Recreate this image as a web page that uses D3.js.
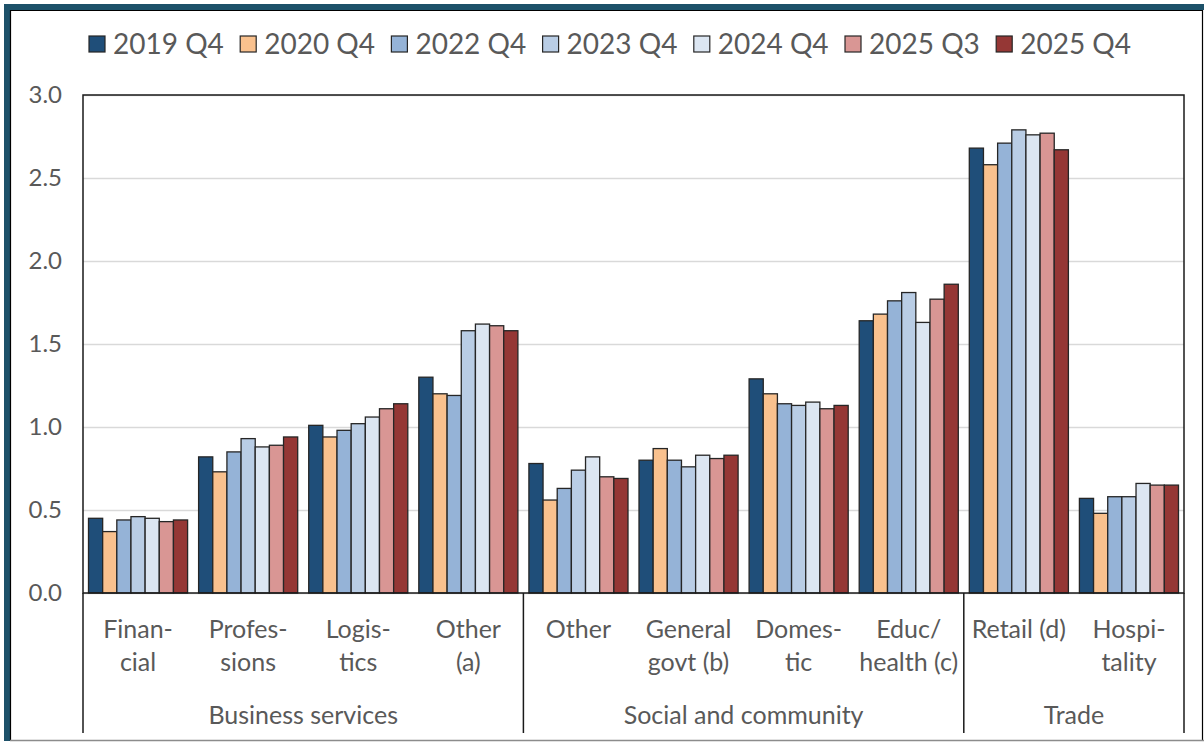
<!DOCTYPE html>
<html>
<head>
<meta charset="utf-8">
<script src="https://cdn.jsdelivr.net/npm/d3@7"></script>
<style>
  body { margin: 0; background: #fff; }
  svg text { font-family: Lato, "Open Sans", sans-serif; fill: #595959; }
</style>
</head>
<body>
<div id="container"></div>
<script>
/* DATA */
const series = ["2019 Q4", "2020 Q4", "2022 Q4", "2023 Q4", "2024 Q4", "2025 Q3", "2025 Q4"];
const colors = ["#1f4e79", "#f9c18e", "#95b3d7", "#b9cde5", "#dce6f2", "#d99694", "#953735"];

const categories = ["Financial", "Professions", "Logistics", "Other (a)", "Other",
  "General govt (b)", "Domestic", "Educ/health (c)", "Retail (d)", "Hospitality"];
// how each category label is broken onto lines
const categoryLines = [["Finan-", "cial"], ["Profes-", "sions"], ["Logis-", "tics"], ["Other", "(a)"], ["Other"],
  ["General", "govt (b)"], ["Domes-", "tic"], ["Educ/", "health (c)"], ["Retail (d)"], ["Hospi-", "tality"]];

const groups = ["Business services", "Social and community", "Trade"];
const groupSizes = [4, 4, 2];

// one array per category, values in series order
const financial   = [0.45, 0.37, 0.44, 0.46, 0.45, 0.43, 0.44];
const professions = [0.82, 0.73, 0.85, 0.93, 0.88, 0.89, 0.94];
const logistics   = [1.01, 0.94, 0.98, 1.02, 1.06, 1.11, 1.14];
const otherA      = [1.30, 1.20, 1.19, 1.58, 1.62, 1.61, 1.58];
const otherSocial = [0.78, 0.56, 0.63, 0.74, 0.82, 0.70, 0.69];
const generalGovt = [0.80, 0.87, 0.80, 0.76, 0.83, 0.81, 0.83];
const domestic    = [1.29, 1.20, 1.14, 1.13, 1.15, 1.11, 1.13];
const educHealth  = [1.64, 1.68, 1.76, 1.81, 1.63, 1.77, 1.86];
const retail      = [2.68, 2.58, 2.71, 2.79, 2.76, 2.77, 2.67];
const hospitality = [0.57, 0.48, 0.58, 0.58, 0.66, 0.65, 0.65];
const values = [financial, professions, logistics, otherA, otherSocial,
  generalGovt, domestic, educHealth, retail, hospitality];

const yTicks = [0, 0.5, 1.0, 1.5, 2.0, 2.5, 3.0];

/* LAYOUT */
const width = 1204, height = 742;
const margin = { top: 95, left: 83, right: 20, bottom: 149 };
const plotW = width - margin.left - margin.right;
const plotH = height - margin.top - margin.bottom;

const svg = d3.select("#container").append("svg")
  .attr("width", width)
  .attr("height", height);

// chart frame
svg.append("rect").attr("x", 4).attr("y", 4).attr("width", 1200).attr("height", 6).attr("fill", "#1d5169");
svg.append("rect").attr("x", 4).attr("y", 4).attr("width", 6).attr("height", 737).attr("fill", "#1d5169");
svg.append("path")
  .attr("d", "M10.5,741 V10.5 H1202.5 V741")
  .attr("fill", "none").attr("stroke", "#000").attr("stroke-width", 1.2);
svg.append("line").attr("x1", 10).attr("x2", 1204).attr("y1", 740.5).attr("y2", 740.5)
  .attr("stroke", "#8c8c8c").attr("stroke-width", 1.5);

const g = svg.append("g").attr("transform", `translate(${margin.left},${margin.top})`);

/* SCALES */
const x0 = d3.scaleBand().domain(categories).range([0, plotW]).paddingInner(0.1).paddingOuter(0.05);
const x1 = d3.scaleBand().domain(series).range([0, x0.bandwidth()]);
const y = d3.scaleLinear().domain([0, 3]).range([plotH, 0]);
const color = d3.scaleOrdinal().domain(series).range(colors);

// gridlines
g.append("g")
  .call(d3.axisLeft(y).tickValues(yTicks).tickSize(-plotW).tickFormat(""))
  .call(sel => sel.select(".domain").remove())
  .call(sel => sel.selectAll("line").attr("stroke", "#d9d9d9").attr("stroke-width", 1.5));

// y axis labels
g.append("g")
  .call(d3.axisLeft(y).tickValues(yTicks).tickSize(0).tickPadding(21).tickFormat(d3.format(".1f")))
  .call(sel => sel.select(".domain").remove())
  .call(sel => sel.selectAll("text").attr("font-size", 24).style("font-family", "Lato"));

/* BARS */
g.append("g")
  .selectAll("g")
  .data(categories)
  .join("g")
  .attr("transform", d => `translate(${x0(d)},0)`)
  .selectAll("rect")
  .data((d, i) => series.map((s, j) => ({ s, v: values[i][j] })))
  .join("rect")
  .attr("x", d => x1(d.s))
  .attr("y", d => y(d.v))
  .attr("width", x1.bandwidth())
  .attr("height", d => y(0) - y(d.v))
  .attr("fill", d => color(d.s))
  .attr("stroke", "#262626")
  .attr("stroke-width", 1.3);

// plot border
g.append("rect")
  .attr("width", plotW).attr("height", plotH)
  .attr("fill", "none").attr("stroke", "#1a1a1a").attr("stroke-width", 1.5);

/* CATEGORY AXIS */
const step = x0.step();
const catLabels = g.append("g").attr("transform", `translate(0,${plotH})`);
catLabels.selectAll("text")
  .data(categories)
  .join("text")
  .attr("text-anchor", "middle")
  .attr("font-size", 25)
  .attr("x", d => x0(d) + x0.bandwidth() / 2)
  .each(function(d, i) {
    d3.select(this).selectAll("tspan")
      .data(categoryLines[i])
      .join("tspan")
      .attr("x", x0(d) + x0.bandwidth() / 2)
      .attr("y", (t, k) => 45 + k * 33)
      .text(t => t);
  });

// group separators and labels
let start = 0;
const bounds = [0];
groupSizes.forEach(n => { start += n; bounds.push(start); });
catLabels.selectAll("line.sep")
  .data(bounds)
  .join("line")
  .attr("class", "sep")
  .attr("x1", b => x0.range()[0] + b * step)
  .attr("x2", b => x0.range()[0] + b * step)
  .attr("y1", 0).attr("y2", 140)
  .attr("stroke", "#1a1a1a").attr("stroke-width", 1.5);

catLabels.selectAll("text.grp")
  .data(groups)
  .join("text")
  .attr("class", "grp")
  .attr("text-anchor", "middle")
  .attr("font-size", 25)
  .attr("x", (d, i) => (bounds[i] + bounds[i + 1]) / 2 * step)
  .attr("y", 131)
  .text(d => d);

/* LEGEND */
const legend = svg.append("g").attr("transform", "translate(89,36)");
const item = legend.selectAll("g")
  .data(series)
  .join("g")
  .attr("transform", (d, i) => `translate(${i * 151.2},0)`);
item.append("rect")
  .attr("width", 16).attr("height", 16)
  .attr("fill", d => color(d))
  .attr("stroke", "#262626").attr("stroke-width", 1.2);
item.append("text")
  .attr("x", 24).attr("y", 8).attr("dy", "0.36em")
  .attr("font-size", 28)
  .text(d => d);
</script>
</body>
</html>
